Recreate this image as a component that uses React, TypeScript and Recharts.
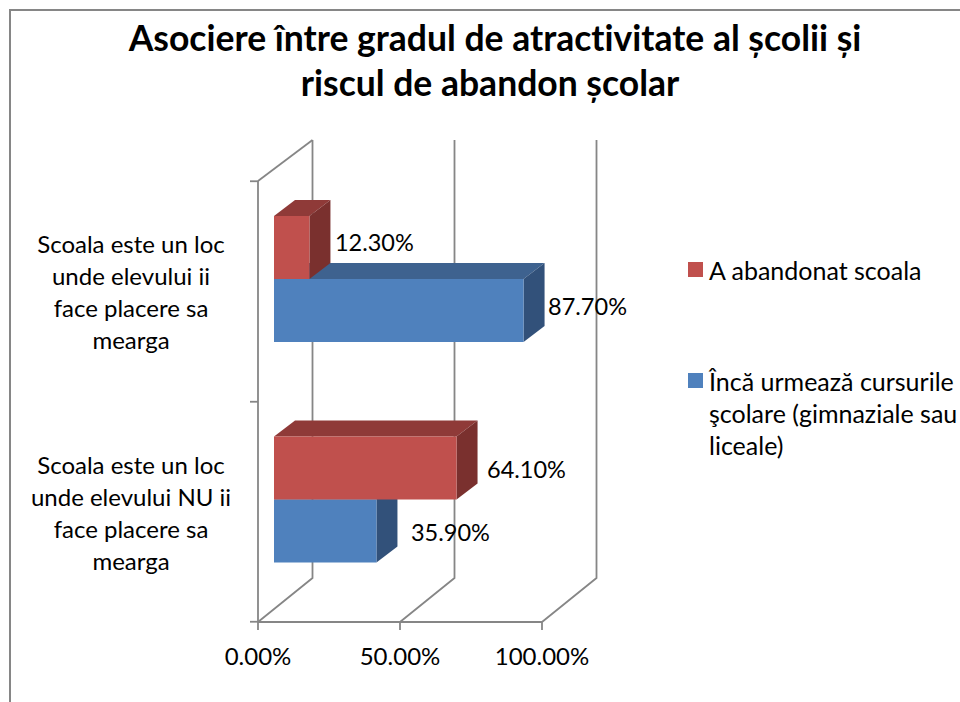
import { BarChart, Bar, XAxis, YAxis, CartesianGrid, LabelList, Legend } from "recharts";

const categories = [
  ["Scoala este un loc", "unde elevului ii", "face placere sa", "mearga"],
  ["Scoala este un loc", "unde elevului NU ii", "face placere sa", "mearga"],
];
const stillEnrolled = [87.7, 35.9];
const droppedOut = [12.3, 64.1];
const xTicks = [0, 50, 100];

const seriesEnrolled = "Încă urmează cursurile şcolare (gimnaziale sau liceale)";
const seriesDropped = "A abandonat scoala";
const titleLines = ["Asociere între gradul de atractivitate al școlii și", "riscul de abandon școlar"];

const data = categories.map((lines, i) => ({
  category: lines.join(" "),
  lines,
  enrolled: stillEnrolled[i],
  dropped: droppedOut[i],
}));

const FONT = "Lato, sans-serif";
const AXIS = "#868686";
const BACK_DX = 54.5;
const BACK_DY = 44;
const BAR_DX = 21;
const BAR_DY = 16;
const SHIFT_X = 16;
const SHIFT_Y = 12;

const labelNudge: Record<string, number[]> = {
  enrolled: [24, 34],
  dropped: [25, 30],
};
const labelLift: Record<string, number[]> = {
  enrolled: [-5, 1],
  dropped: [-6, 1],
};

function box3d(front: string, top: string, side: string) {
  return (p: any) => {
    const x = p.x + SHIFT_X;
    const y = p.y - SHIFT_Y;
    const w = p.width + 0.5;
    const h = p.height;
    return (
      <g>
        <polygon points={`${x},${y} ${x + w},${y} ${x + w + BAR_DX},${y - BAR_DY} ${x + BAR_DX},${y - BAR_DY}`} fill={top} />
        <polygon points={`${x + w},${y} ${x + w + BAR_DX},${y - BAR_DY} ${x + w + BAR_DX},${y + h - BAR_DY} ${x + w},${y + h}`} fill={side} />
        <rect x={x} y={y} width={w} height={h} fill={front} />
      </g>
    );
  };
}

function valueLabel(key: string) {
  return (p: any) => (
    <text
      x={p.x + SHIFT_X + p.width + 1 + labelNudge[key][p.index]}
      y={p.y - SHIFT_Y + p.height / 2 + labelLift[key][p.index]}
      dominantBaseline="central"
      fontFamily={FONT}
      fontSize={23.5}
      fill="#000"
    >
      {Number(p.value).toFixed(2)}%
    </text>
  );
}

function CategoryTick(p: any) {
  const lines = data[p.index].lines;
  return (
    <g>
      <line x1={258} x2={250} y1={p.y - 110} y2={p.y - 110} stroke={AXIS} strokeWidth={1.8} />
      {p.index === data.length - 1 && (
        <line x1={258} x2={250} y1={p.y + 110} y2={p.y + 110} stroke={AXIS} strokeWidth={1.8} />
      )}
      <text textAnchor="middle" fontFamily={FONT} fontSize={24} fill="#000">
        {lines.map((l: string, i: number) => (
          <tspan key={i} x={131} y={p.y + 0.5 + (i - 1.5) * 32} dominantBaseline="central">
            {l}
          </tspan>
        ))}
      </text>
    </g>
  );
}

function BackWall(p: any) {
  const bx = p.x1 + BACK_DX;
  const by = p.y2 - BACK_DY;
  const ty = p.y1 - 41;
  const first = p.index === 0;
  return (
    <g fill="none" stroke={AXIS} strokeWidth={1.8}>
      <polyline points={`${p.x1},${p.y2} ${bx},${by} ${bx},${ty}`} />
      {first && <polyline points={`${p.x1},${p.y1} ${bx},${ty}`} />}
    </g>
  );
}

function LegendBox({ payload }: any) {
  const tops = [254, 365];
  return (
    <div style={{ position: "absolute", left: 0, top: 0, fontFamily: FONT, fontSize: 25, lineHeight: "32px" }}>
      {(payload ?? []).map((it: any, i: number) => (
        <div key={it.value} style={{ position: "absolute", left: 688, top: tops[i], width: 272 }}>
          <span style={{ position: "absolute", left: 0, top: 8, width: 15, height: 15, background: it.color }} />
          <div style={{ marginLeft: 21, width: 251 }}>{it.value}</div>
        </div>
      ))}
    </div>
  );
}

export default function App() {
  return (
    <div style={{ position: "absolute", left: 0, top: 0, width: 960, height: 702, background: "#fff", overflow: "hidden" }}>
      <div style={{ position: "absolute", left: 9, top: 9, width: 1000, height: 800, border: `2px solid ${AXIS}` }} />
      {titleLines.map((t, i) => (
        <div
          key={t}
          style={{
            position: "absolute",
            left: i === 0 ? 15 : 10,
            width: 960,
            top: 15 + i * 45,
            textAlign: "center",
            fontFamily: FONT,
            fontWeight: 700,
            fontSize: 35.5,
            lineHeight: "46px",
            fontVariantLigatures: "none",
            color: "#000",
          }}
        >
          {t}
        </div>
      ))}
      <BarChart
        width={960}
        height={702}
        data={data}
        layout="vertical"
        margin={{ left: 10, right: 418, top: 181, bottom: 0 }}
        barSize={63}
        barGap={-126}
        style={{ position: "absolute", left: 0, top: 0, fontVariantLigatures: "none" }}
      >
        <CartesianGrid horizontal={false} vertical={BackWall} />
        <XAxis
          type="number"
          domain={[0, 100]}
          ticks={xTicks}
          interval={0}
          height={80}
          tickFormatter={(v: number) => `${v.toFixed(2)}%`}
          tick={{ fontFamily: FONT, fontSize: 24, fill: "#000" }}
          tickSize={8}
          tickMargin={18}
          stroke={AXIS}
          strokeWidth={1.8}
        />
        <YAxis
          type="category"
          dataKey="category"
          width={248}
          tickLine={false}
          tick={CategoryTick}
          interval={0}
          stroke={AXIS}
          strokeWidth={1.8}
        />
        <Legend verticalAlign="middle" layout="horizontal" content={LegendBox} wrapperStyle={{ left: 0, top: 0, width: 0, height: 0 }} />
        <Bar dataKey="enrolled" name={seriesEnrolled} fill="#4F81BD" isAnimationActive={false} shape={box3d("#4F81BD", "#3E628F", "#32517A")}>
          <LabelList dataKey="enrolled" content={valueLabel("enrolled")} />
        </Bar>
        <Bar dataKey="dropped" name={seriesDropped} fill="#C0504D" isAnimationActive={false} shape={box3d("#C0504D", "#8F3A38", "#7A302E")}>
          <LabelList dataKey="dropped" content={valueLabel("dropped")} />
        </Bar>
      </BarChart>
    </div>
  );
}
